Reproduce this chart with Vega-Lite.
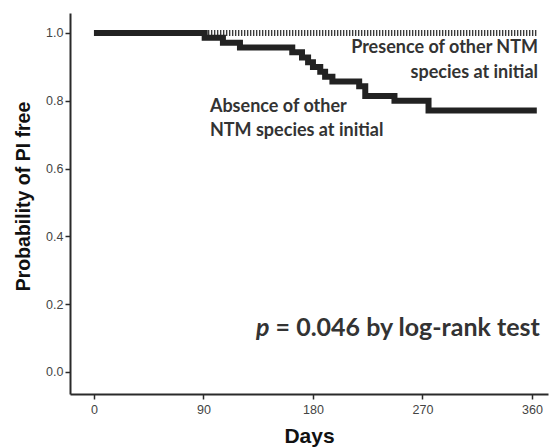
{
  "$schema": "https://vega.github.io/schema/vega-lite/v6.json",
  "width": 478,
  "height": 381,
  "autosize": "none",
  "padding": {"left": 70, "top": 13, "right": 2, "bottom": 54},
  "background": "white",
  "config": {
    "view": {"stroke": null},
    "axis": {
      "grid": false,
      "domainColor": "#2a2a2a",
      "domainWidth": 2,
      "tickColor": "#2a2a2a",
      "tickWidth": 1.5,
      "tickSize": 5,
      "labelFont": "Liberation Sans",
      "labelFontSize": 12.5,
      "labelColor": "#444444",
      "titleFont": "Liberation Sans",
      "titleFontSize": 20,
      "titleFontWeight": "bold",
      "titleColor": "#111111"
    }
  },
  "datasets": {
    "curves": [
      {"group": "Absence", "day": 0, "surv": 1.0},
      {"group": "Absence", "day": 91, "surv": 0.986},
      {"group": "Absence", "day": 106, "surv": 0.971},
      {"group": "Absence", "day": 120, "surv": 0.957},
      {"group": "Absence", "day": 163, "surv": 0.943},
      {"group": "Absence", "day": 171, "surv": 0.928},
      {"group": "Absence", "day": 176, "surv": 0.914},
      {"group": "Absence", "day": 180, "surv": 0.9},
      {"group": "Absence", "day": 186, "surv": 0.886},
      {"group": "Absence", "day": 190, "surv": 0.871},
      {"group": "Absence", "day": 196, "surv": 0.857},
      {"group": "Absence", "day": 218, "surv": 0.843},
      {"group": "Absence", "day": 223, "surv": 0.814},
      {"group": "Absence", "day": 247, "surv": 0.8},
      {"group": "Absence", "day": 275, "surv": 0.771},
      {"group": "Absence", "day": 364, "surv": 0.771}
    ],
    "presence": [
      {"group": "Presence", "day": 0, "surv": 1.0},
      {"group": "Presence", "day": 364, "surv": 1.0}
    ],
    "labelsRight": [
      {"day": 365, "val": 0.941, "label": "Presence of other NTM"},
      {"day": 365, "val": 0.867, "label": "species at initial"}
    ],
    "labelsLeft": [
      {"day": 95.3, "val": 0.767, "label": "Absence of other"},
      {"day": 95.3, "val": 0.696, "label": "NTM species at initial"}
    ],
    "ptext": [
      {"day": 366.5, "val": 0.106, "label": " = 0.046 by log-rank test"}
    ],
    "pletter": [
      {"day": 133.2, "val": 0.106, "label": "p"}
    ]
  },
  "layer": [
    {
      "data": {"name": "presence"},
      "mark": {"type": "line", "color": "#3a3a3a", "strokeWidth": 6, "strokeDash": [1.4, 1.6]},
      "encoding": {
        "x": {
          "field": "day", "type": "quantitative",
          "scale": {"domain": [-19.7, 373.2], "nice": false, "zero": false},
          "axis": {"values": [0, 90, 180, 270, 360], "title": "Days", "labelPadding": 4, "titlePadding": 10, "titleFontSize": 21}
        },
        "y": {
          "field": "surv", "type": "quantitative",
          "scale": {"domain": [-0.065, 1.059], "nice": false, "zero": false},
          "axis": {"values": [0, 0.2, 0.4, 0.6, 0.8, 1.0], "format": ".1f", "title": "Probability of PI free", "labelPadding": 2, "titleX": -47, "titleY": 183, "titleAlign": "center", "titleBaseline": "middle", "titleAngle": -90, "titleFontSize": 19.5}
        }
      }
    },
    {
      "data": {"name": "curves"},
      "mark": {"type": "line", "color": "#222222", "strokeWidth": 6, "interpolate": "step-after"},
      "encoding": {
        "x": {"field": "day", "type": "quantitative"},
        "y": {"field": "surv", "type": "quantitative"}
      }
    },
    {
      "data": {"name": "labelsRight"},
      "mark": {"type": "text", "align": "right", "baseline": "alphabetic", "font": "Lato", "fontWeight": "bold", "fontSize": 18, "color": "#333333"},
      "encoding": {
        "x": {"field": "day", "type": "quantitative"},
        "y": {"field": "val", "type": "quantitative"},
        "text": {"field": "label"}
      }
    },
    {
      "data": {"name": "labelsLeft"},
      "mark": {"type": "text", "align": "left", "baseline": "alphabetic", "font": "Lato", "fontWeight": "bold", "fontSize": 18, "color": "#333333"},
      "encoding": {
        "x": {"field": "day", "type": "quantitative"},
        "y": {"field": "val", "type": "quantitative"},
        "text": {"field": "label"}
      }
    },
    {
      "data": {"name": "ptext"},
      "mark": {"type": "text", "align": "right", "baseline": "alphabetic", "font": "Lato", "fontWeight": "bold", "fontSize": 25, "color": "#333333"},
      "encoding": {
        "x": {"field": "day", "type": "quantitative"},
        "y": {"field": "val", "type": "quantitative"},
        "text": {"field": "label"}
      }
    },
    {
      "data": {"name": "pletter"},
      "mark": {"type": "text", "align": "left", "baseline": "alphabetic", "font": "Lato", "fontWeight": "bold", "fontStyle": "italic", "fontSize": 25, "color": "#333333"},
      "encoding": {
        "x": {"field": "day", "type": "quantitative"},
        "y": {"field": "val", "type": "quantitative"},
        "text": {"field": "label"}
      }
    }
  ]
}
